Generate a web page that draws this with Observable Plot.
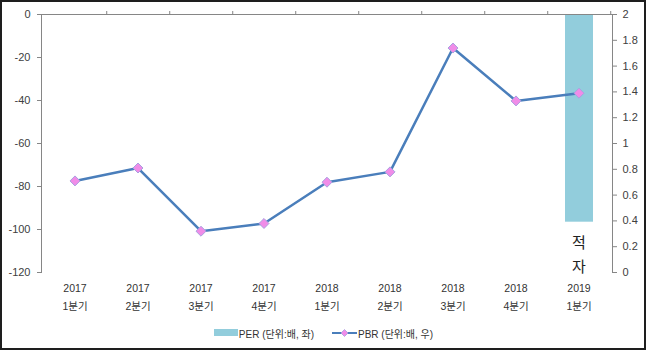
<!DOCTYPE html>
<html><head><meta charset="utf-8">
<script src="https://cdn.jsdelivr.net/npm/d3@7"></script>
<script src="https://cdn.jsdelivr.net/npm/@observablehq/plot@0.6"></script>
<style>
body{margin:0;background:#fff;}
#wrap{position:relative;width:647px;height:351px;overflow:hidden;background:#fff;}
#wrap svg{position:absolute;left:0;top:0;}
#frame{position:absolute;left:0;top:0;width:646px;height:350px;box-sizing:border-box;border:2px solid #1e1e1e;pointer-events:none;}
#legend{position:absolute;top:325px;left:0;width:647px;height:16px;display:flex;justify-content:center;align-items:center;gap:18px;font:10px "Liberation Sans","Noto Sans CJK KR",sans-serif;color:#333;}
#legend .it{display:flex;align-items:center;gap:1px;}
</style></head>
<body><div id="wrap"><div id="frame"></div>
<div id="legend">
 <div class="it"><svg width="24" height="8" style="position:static"><rect x="0" y="0" width="24" height="7" fill="#92CDDC"/></svg><span>PER (단위:배, 좌)</span></div>
 <div class="it"><svg width="25" height="10" style="position:static"><line x1="0" y1="5" x2="25" y2="5" stroke="#4A7EBB" stroke-width="2"/><path d="M12.5,1.5 L16,5 L12.5,8.5 L9,5 Z" fill="#F08CE8" stroke="#A9A0E0" stroke-width="0.8"/></svg><span>PBR (단위:배, 우)</span></div>
</div>
</div>
<script>
const years = ["2017","2017","2017","2017","2018","2018","2018","2018","2019"];
const quarters = ["1분기","2분기","3분기","4분기","1분기","2분기","3분기","4분기","1분기"];
const per = [null,null,null,null,null,null,null,null,-96.6];
const pbr = [0.71,0.81,0.32,0.38,0.70,0.78,1.74,1.33,1.39];
const perNote = "적\n자";
const leftTicks = [0,-20,-40,-60,-80,-100,-120];
const rightTicks = [0,0.2,0.4,0.6,0.8,1,1.2,1.4,1.6,1.8,2];

const cats = years.map((y,i)=>y+"\n"+quarters[i]);
const rows = cats.map((c,i)=>({cat:c, per:per[i], pbr:pbr[i]}));

const W=647,H=351,ML=41,MR=35,MT=14,MB=79;
const bw=(W-ML-MR)/cats.length;
const font="'Liberation Sans','Noto Sans CJK KR',sans-serif";
const common={width:W,height:H,marginLeft:ML,marginRight:MR,marginTop:MT,marginBottom:MB,
  style:{fontFamily:font,fontSize:"11px",background:"transparent",color:"#404040",overflow:"visible"},
  x:{type:"band",domain:cats,padding:0,axis:null,label:null}};

const left=Plot.plot({...common,
  y:{domain:[-120,0],axis:null,label:null},
  marks:[
    Plot.barY(rows.filter(d=>d.per!=null),{x:"cat",y:"per",fill:"#92CDDC",insetLeft:18,insetRight:17}),
    Plot.ruleY([0],{stroke:"#868686"}),
    Plot.frame({anchor:"left",stroke:"#868686"}),
    Plot.axisY({anchor:"left",label:null,ticks:leftTicks,tickSize:4,tickPadding:7,tickFormat:d=>String(d),stroke:"#868686",fill:"#404040",fontSize:11}),
    Plot.axisX({anchor:"top",label:null,tickSize:4,tickFormat:()=>"",dx:bw/2,stroke:"#868686"}),
    Plot.text(rows,{x:"cat",y:()=>-120,text:"cat",lineAnchor:"top",dy:7,lineHeight:1.7,fontSize:10.5,fill:"#333"}),
    Plot.text([perNote],{x:()=>cats[cats.length-1],y:()=>-110.7,text:d=>d,fontSize:15,lineHeight:1.55,fill:"#222"})
  ]});

const right=Plot.plot({...common,
  y:{domain:[0,2],axis:null,label:null},
  marks:[
    Plot.frame({anchor:"right",stroke:"#868686"}),
    Plot.axisY({anchor:"right",label:null,ticks:rightTicks,tickSize:4,tickPadding:6,tickFormat:d=>String(+d.toFixed(1)),stroke:"#868686",fill:"#404040",fontSize:11}),
    Plot.line(rows,{x:"cat",y:"pbr",stroke:"#4A7EBB",strokeWidth:2.5}),
    Plot.dot(rows,{x:"cat",y:"pbr",symbol:"diamond2",r:4.5,fill:"#F08CE8",stroke:"#A9A0E0",strokeWidth:1})
  ]});

const wrap=document.getElementById("wrap");
wrap.insertBefore(left,wrap.firstChild);
wrap.insertBefore(right,left.nextSibling);
</script>
</body></html>
